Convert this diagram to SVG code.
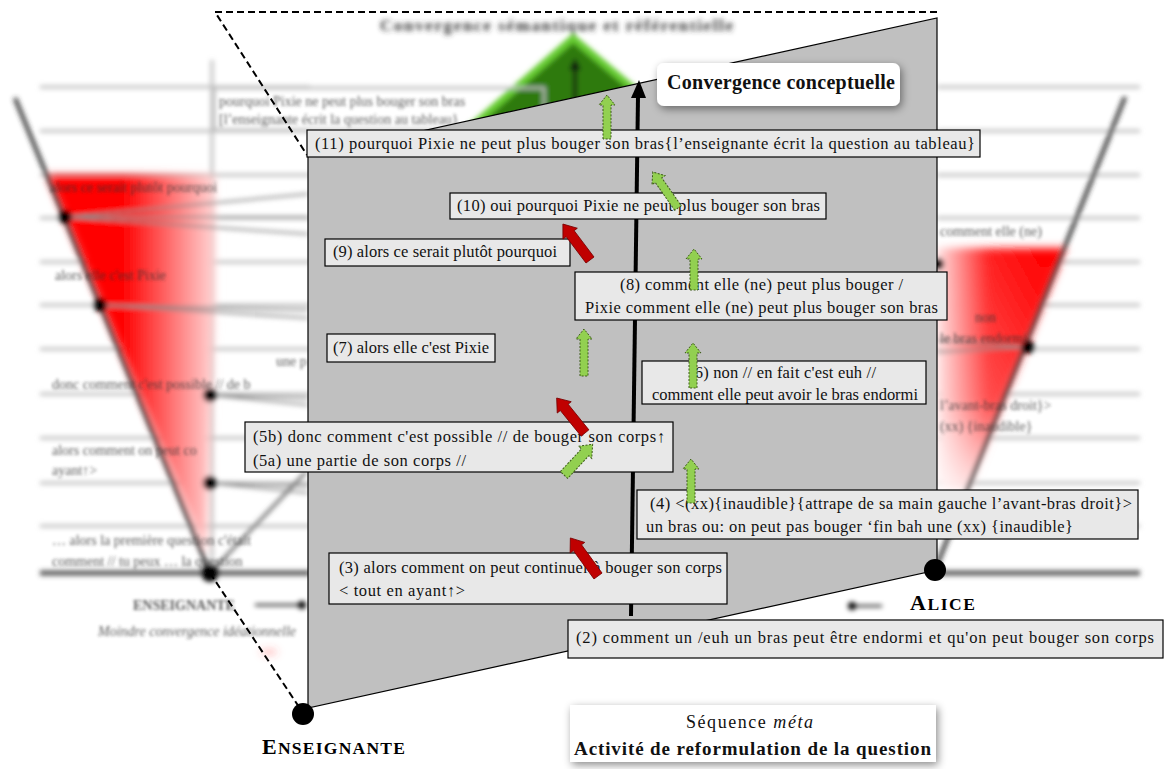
<svg xmlns="http://www.w3.org/2000/svg" width="1167" height="769" viewBox="0 0 1167 769">
  <defs>
    <filter id="blur" x="-10%" y="-10%" width="120%" height="120%">
      <feGaussianBlur stdDeviation="2.4"/>
    </filter>
    <filter id="blurRed" x="-20%" y="-20%" width="140%" height="140%">
      <feGaussianBlur stdDeviation="3.5"/>
    </filter>
    <filter id="blurText" x="-5%" y="-50%" width="110%" height="200%">
      <feGaussianBlur stdDeviation="1.7"/>
    </filter>
    <filter id="shadow" x="-20%" y="-40%" width="140%" height="180%">
      <feDropShadow dx="2" dy="3" stdDeviation="4" flood-color="#000" flood-opacity="0.45"/>
    </filter>
    <linearGradient id="redL" x1="47" y1="0" x2="215" y2="0" gradientUnits="userSpaceOnUse">
      <stop offset="0" stop-color="#ff0000"/>
      <stop offset="0.45" stop-color="#ff0000"/>
      <stop offset="1" stop-color="#ffd6d6"/>
    </linearGradient>
    <linearGradient id="redR" x1="937" y1="0" x2="1040" y2="0" gradientUnits="userSpaceOnUse">
      <stop offset="0" stop-color="#ffe0e0"/>
      <stop offset="0.5" stop-color="#ff2020"/>
      <stop offset="1" stop-color="#ff0000"/>
    </linearGradient>
    <linearGradient id="redFade" x1="0" y1="248" x2="0" y2="500" gradientUnits="userSpaceOnUse">
      <stop offset="0" stop-color="#fff" stop-opacity="0"/>
      <stop offset="0.6" stop-color="#fff" stop-opacity="0.2"/>
      <stop offset="1" stop-color="#fff" stop-opacity="0.9"/>
    </linearGradient>
    <style>
      .bgline { stroke: #bdbdbd; stroke-width: 3; fill: none; }
      .bgbase { stroke: #555; stroke-width: 5; fill: none; }
      .vline { stroke: #333; stroke-width: 4; fill: none; }
      .fan { stroke: #888; stroke-width: 2; fill: none; }
      .btxt { font-family: "Liberation Serif", serif; font-size: 14px; fill: #333; }
      .box { fill: #e8e8e8; stroke: #000; stroke-width: 1.2; }
      .t { font-family: "Liberation Serif", serif; font-size: 16.5px; fill: #111; }
      .ga { fill: #92d050; stroke: #3d5a1a; stroke-width: 1; stroke-dasharray: 2 1.5; }
      .ra { fill: #c00000; stroke: #7a0000; stroke-width: 0.8; }
      .lbl { font-family: "Liberation Serif", serif; font-weight: bold; fill: #000; }
    </style>
  </defs>

  <rect width="1167" height="769" fill="#ffffff"/>

  <!-- Blurred background figure -->
  <g id="background" filter="url(#blur)">
    <text x="380" y="31" font-family="Liberation Serif, serif" font-size="17" font-weight="bold" fill="#333" textLength="353">Convergence sémantique et référentielle</text>
    <polygon points="573,38 470,128 680,128" fill="#2f7a0c" stroke="#66cc33" stroke-width="7" stroke-linejoin="round"/>
    <line x1="575" y1="112" x2="575" y2="68" stroke="#111" stroke-width="4"/>
    <polygon points="575,58 569,70 581,70" fill="#111"/>
    <g class="bgline">
      <line x1="40" y1="87" x2="310" y2="87"/>
      <line x1="40" y1="131" x2="310" y2="131"/>
      <line x1="40" y1="175" x2="310" y2="175"/>
      <line x1="40" y1="218" x2="310" y2="218"/>
      <line x1="40" y1="262" x2="310" y2="262"/>
      <line x1="40" y1="305" x2="310" y2="305"/>
      <line x1="40" y1="349" x2="310" y2="349"/>
      <line x1="40" y1="394" x2="310" y2="394"/>
      <line x1="40" y1="438" x2="310" y2="438"/>
      <line x1="40" y1="483" x2="310" y2="483"/>
      <line x1="40" y1="526" x2="310" y2="526"/>
      <line x1="937" y1="87" x2="1140" y2="87"/>
      <line x1="937" y1="131" x2="1140" y2="131"/>
      <line x1="937" y1="175" x2="1140" y2="175"/>
      <line x1="937" y1="218" x2="1140" y2="218"/>
      <line x1="937" y1="262" x2="1140" y2="262"/>
      <line x1="937" y1="305" x2="1140" y2="305"/>
      <line x1="937" y1="349" x2="1140" y2="349"/>
      <line x1="937" y1="394" x2="1140" y2="394"/>
      <line x1="937" y1="438" x2="1140" y2="438"/>
      <line x1="937" y1="483" x2="1140" y2="483"/>
      <line x1="937" y1="526" x2="1140" y2="526"/>
      <line x1="212" y1="60" x2="212" y2="573"/>
      <rect x="214" y="88" width="330" height="42"/>
    </g>
    <line class="bgbase" x1="40" y1="573" x2="310" y2="573"/>
    <line class="bgbase" x1="937" y1="573" x2="1140" y2="573"/>
    <g filter="url(#blurRed)">
      <polygon points="47,175 215,175 215,300 206,555" fill="url(#redL)"/>
      <polygon points="937,248 1066,248 968,490 937,490" fill="url(#redR)"/>
      <polygon points="937,248 1066,248 968,490 937,490" fill="url(#redFade)"/>
      <line x1="262" y1="652" x2="276" y2="652" stroke="#f44" stroke-width="2"/>
    </g>
    <g class="fan">
      <line x1="65" y1="217" x2="308" y2="194"/>
      <line x1="65" y1="217" x2="308" y2="217"/>
      <line x1="65" y1="217" x2="308" y2="234"/>
      <line x1="100" y1="305" x2="308" y2="310"/>
      <line x1="100" y1="305" x2="308" y2="318"/>
      <line x1="210" y1="395" x2="308" y2="398"/>
      <line x1="210" y1="395" x2="308" y2="405"/>
      <line x1="210" y1="483" x2="308" y2="486"/>
      <line x1="210" y1="483" x2="308" y2="493"/>
      <line x1="210" y1="573" x2="306" y2="472" stroke="#666" stroke-width="3"/>
      <line x1="1028" y1="347" x2="937" y2="340"/>
      <line x1="1028" y1="347" x2="937" y2="352"/>
    </g>
    <line class="vline" x1="15" y1="98" x2="210" y2="573"/>
    <line class="vline" x1="1125" y1="97" x2="935" y2="570"/>
    <g fill="#000">
      <circle cx="65" cy="217" r="7"/>
      <circle cx="100" cy="305" r="7"/>
      <circle cx="210" cy="395" r="7"/>
      <circle cx="210" cy="483" r="7"/>
      <circle cx="210" cy="573" r="9"/>
      <circle cx="1028" cy="347" r="7"/>
      <circle cx="938" cy="264" r="6"/>
      <circle cx="852" cy="606" r="4"/>
    </g>
    <line x1="852" y1="606" x2="882" y2="606" stroke="#111" stroke-width="2"/>
    <line x1="255" y1="605" x2="300" y2="605" stroke="#111" stroke-width="2"/>
    <circle cx="302" cy="605" r="4" fill="#000"/>
  </g>

  <g id="bgtexts" filter="url(#blurText)" opacity="0.8">
    <text class="btxt" x="219" y="106">pourquoi Pixie ne peut plus bouger son bras</text>
    <text class="btxt" x="219" y="124">[l’enseignante écrit la question au tableau}</text>
    <text class="btxt" x="50" y="192">alors ce serait plutôt pourquoi</text>
    <text class="btxt" x="55" y="280">alors elle c'est Pixie</text>
    <text class="btxt" x="276" y="366">une p</text>
    <text class="btxt" x="52" y="389">donc comment c'est possible // de b</text>
    <text class="btxt" x="52" y="455">alors comment on peut co</text>
    <text class="btxt" x="52" y="475">ayant↑&gt;</text>
    <text class="btxt" x="52" y="545">… alors la première question c'était</text>
    <text class="btxt" x="52" y="566">comment // tu peux … la question</text>
    <text class="btxt" x="133" y="610" font-weight="bold">ENSEIGNANTE</text>
    <text class="btxt" x="98" y="636" font-style="italic" fill="#999">Moindre convergence idéationnelle</text>
    <text class="btxt" x="940" y="236">comment elle (ne)</text>
    <text class="btxt" x="975" y="322">non</text>
    <text class="btxt" x="940" y="343">le bras endormi</text>
    <text class="btxt" x="940" y="410">l’avant-bras droit}&gt;</text>
    <text class="btxt" x="940" y="431">(xx) {inaudible}</text>
  </g>

  <g id="plane">
    <polygon points="308,156 937,18 937,570 308,708" fill="#c0c0c0" stroke="#000" stroke-width="1.2"/>
  </g>

  <g id="connectors">
    <path d="M937,12 L215,12 L307,155 M210,573 L303,713" fill="none" stroke="#000" stroke-width="2" stroke-dasharray="7 4"/>
    <line x1="631" y1="616" x2="638" y2="96" stroke="#000" stroke-width="4"/>
    <polygon points="639,80 631,98 646,98" fill="#000"/>
  </g>

  <g id="enseignante">
    <circle cx="303" cy="714" r="11" fill="#000"/>
    <text class="lbl" x="262" y="754" textLength="143"><tspan font-size="22">E</tspan><tspan font-size="17.5">NSEIGNANTE</tspan></text>
  </g>
  <g id="alice">
    <circle cx="935" cy="570" r="11" fill="#000"/>
    <text class="lbl" x="910" y="610" textLength="65"><tspan font-size="22">A</tspan><tspan font-size="17.5">LICE</tspan></text>
  </g>

  <g id="convergence">
    <rect x="657" y="63" width="243" height="43" rx="7" fill="#fff" filter="url(#shadow)"/>
    <text x="667" y="89" font-family="Liberation Serif, serif" font-size="20" font-weight="bold" fill="#111" textLength="228">Convergence conceptuelle</text>
  </g>

  <g id="n11">
    <rect class="box" x="307" y="130" width="673" height="27"/>
    <text class="t" x="315" y="149" textLength="660">(11) pourquoi Pixie ne peut plus bouger son bras{l’enseignante écrit la question au tableau}</text>
  </g>
  <g id="n10">
    <rect class="box" x="450" y="193" width="376" height="26"/>
    <text class="t" x="457" y="211" textLength="363">(10) oui pourquoi Pixie ne peut plus bouger son bras</text>
  </g>
  <g id="n9">
    <rect class="box" x="325" y="239" width="245" height="27"/>
    <text class="t" x="333" y="257" textLength="224">(9) alors ce serait plutôt pourquoi</text>
  </g>
  <g id="n8">
    <rect class="box" x="575" y="272" width="372" height="48"/>
    <text class="t" x="620" y="290" textLength="283">(8) comment elle (ne) peut plus bouger /</text>
    <text class="t" x="585" y="313" textLength="353">Pixie comment elle (ne) peut plus bouger son bras</text>
  </g>
  <g id="n7">
    <rect class="box" x="327" y="334" width="168" height="28"/>
    <text class="t" x="333" y="353" textLength="156">(7) alors elle c'est Pixie</text>
  </g>
  <g id="n6">
    <rect class="box" x="642" y="361" width="284" height="43"/>
    <text class="t" x="689" y="378" textLength="187">(6) non // en fait c'est euh //</text>
    <text class="t" x="652" y="400" textLength="266">comment elle peut avoir le bras endormi</text>
  </g>
  <g id="n5">
    <rect class="box" x="245" y="422" width="428" height="50"/>
    <text class="t" x="253" y="442" textLength="412">(5b) donc comment c'est possible // de bouger son corps↑</text>
    <text class="t" x="253" y="466" textLength="213">(5a) une partie de son corps //</text>
  </g>
  <g id="n4">
    <rect class="box" x="637" y="490" width="501" height="49"/>
    <text class="t" x="650" y="509" textLength="482">(4) &lt;(xx){inaudible}{attrape de sa main gauche l’avant-bras droit}&gt;</text>
    <text class="t" x="646" y="532" textLength="427">un bras ou: on peut pas bouger ‘fin bah une (xx) {inaudible}</text>
  </g>
  <g id="n3">
    <rect class="box" x="329" y="553" width="398" height="51"/>
    <text class="t" x="339" y="573" textLength="383">(3) alors comment on peut continuer à bouger son corps</text>
    <text class="t" x="339" y="596" textLength="126">&lt; tout en ayant↑&gt;</text>
  </g>
  <g id="n2">
    <rect class="box" x="568" y="620" width="595" height="38"/>
    <text class="t" x="576" y="643" textLength="578">(2) comment un /euh un bras peut être endormi et qu'on peut bouger son corps</text>
  </g>

  <g id="arrows">
    <path class="ga" transform="translate(607,139)" d="M-4,0 V-34 H-8 L0,-44 L8,-34 H4 V0 Z"/>
    <path class="ga" transform="translate(678,208) rotate(-35)" d="M-4,0 V-34 H-8 L0,-44 L8,-34 H4 V0 Z"/>
    <path class="ga" transform="translate(694,290)" d="M-4,0 V-31 H-8 L0,-41 L8,-31 H4 V0 Z"/>
    <path class="ga" transform="translate(584,376)" d="M-4,0 V-37 H-8 L0,-47 L8,-37 H4 V0 Z"/>
    <path class="ga" transform="translate(693,388)" d="M-4,0 V-35 H-8 L0,-45 L8,-35 H4 V0 Z"/>
    <path class="ga" transform="translate(564,475) rotate(43)" d="M-5,0 V-31 H-9 L0,-42 L9,-31 H5 V0 Z"/>
    <path class="ga" transform="translate(691,503)" d="M-4,0 V-34 H-8 L0,-44 L8,-34 H4 V0 Z"/>
    <path class="ra" transform="translate(590,260) rotate(-37)" d="M-5,0 V-33 H-9 L0,-45 L9,-33 H5 V0 Z"/>
    <path class="ra" transform="translate(585,433) rotate(-39)" d="M-5,0 V-33 H-9 L0,-45 L9,-33 H5 V0 Z"/>
    <path class="ra" transform="translate(598,576) rotate(-36)" d="M-5,0 V-35 H-9 L0,-47 L9,-35 H5 V0 Z"/>
  </g>

  <g id="sequence">
    <rect x="570" y="705" width="366" height="57" fill="#fff" filter="url(#shadow)"/>
    <text x="686" y="728" font-family="Liberation Serif, serif" font-size="18" fill="#111" textLength="127">Séquence <tspan font-style="italic">méta</tspan></text>
    <text x="574" y="755" font-family="Liberation Serif, serif" font-size="19" font-weight="bold" fill="#111" textLength="357">Activité de reformulation de la question</text>
  </g>
</svg>
